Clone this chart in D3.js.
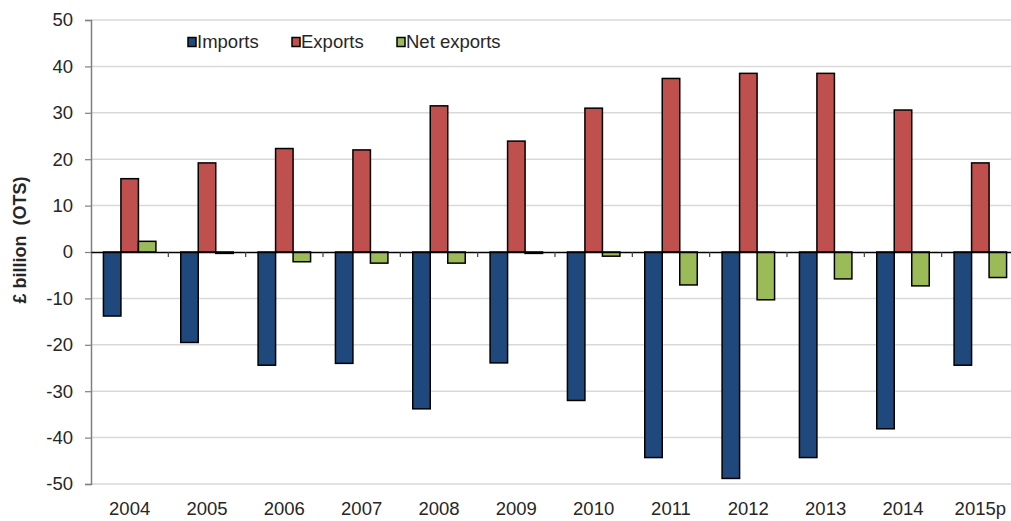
<!DOCTYPE html>
<html><head><meta charset="utf-8">
<script src="https://cdn.jsdelivr.net/npm/d3@7"></script>
<style>
html,body{margin:0;padding:0;background:#fff;overflow:hidden}
text{font-family:"Liberation Sans",Arial,sans-serif;fill:#262626}
</style></head>
<body><svg id="c" width="1011" height="521"></svg>
<script>
const years = ["2004","2005","2006","2007","2008","2009","2010","2011","2012","2013","2014","2015p"];
const imports = [-13.8,-19.5,-24.4,-24.0,-33.8,-23.9,-32.0,-44.3,-48.8,-44.3,-38.1,-24.4];
const exportsV = [15.8,19.2,22.3,22.0,31.5,23.9,31.0,37.4,38.5,38.5,30.6,19.2];
const netExports = [2.3,-0.3,-2.1,-2.4,-2.4,-0.3,-0.9,-7.1,-10.3,-5.8,-7.3,-5.5];
const seriesNames = ["Imports","Exports","Net exports"];
const seriesColors = ["#1F497D","#C0504D","#9BBB59"];
const yTicks = [-50,-40,-30,-20,-10,0,10,20,30,40,50];

const seriesData = [imports, exportsV, netExports];
const svg = d3.select("#c");
const plotL = 91, plotR = 1019, plotT = 20, plotB = 484;

const y = d3.scaleLinear().domain([-50,50]).range([plotB, plotT]);
const x0 = d3.scaleBand().domain(years).range([plotL, plotR]).paddingInner(0).paddingOuter(0);
const x1 = d3.scaleBand().domain(seriesNames).range([0, x0.bandwidth()]).paddingInner(0).paddingOuter(0.71);

// gridlines
svg.append("g").selectAll("line").data(yTicks.filter(t => t !== 0)).join("line")
  .attr("x1", plotL).attr("x2", 1011)
  .attr("y1", d => y(d)).attr("y2", d => y(d))
  .attr("stroke", "#d9d9d9").attr("stroke-width", 1.5);

// y axis
const yAxis = d3.axisLeft(y).tickValues(yTicks).tickSize(6).tickPadding(12).tickFormat(d3.format("d"));
const gy = svg.append("g").attr("transform", `translate(${plotL},0)`).call(yAxis);
gy.select(".domain").attr("stroke", "#7f7f7f").attr("stroke-width", 1.5);
gy.selectAll(".tick line").attr("stroke", "#7f7f7f").attr("stroke-width", 1.2);
gy.selectAll(".tick text").style("font-size", "18.5px").style("fill", "#262626")
  .style("font-family", "'Liberation Sans',Arial,sans-serif")
  .text(d => d < 0 ? "-" + Math.abs(d) : d);

// bars
const groups = svg.append("g").selectAll("g").data(years).join("g")
  .attr("transform", d => `translate(${x0(d)},0)`);
groups.selectAll("rect").data((d, i) => seriesNames.map((s, k) => ({s, k, v: seriesData[k][i]}))).join("rect")
  .attr("x", d => x1(d.s))
  .attr("width", x1.bandwidth())
  .attr("y", d => y(Math.max(0, d.v)))
  .attr("height", d => Math.abs(y(d.v) - y(0)))
  .attr("fill", d => seriesColors[d.k])
  .attr("stroke", "#000").attr("stroke-width", 1.5);

// x axis at zero
const xAxis = d3.axisBottom(x0).tickSize(0).tickFormat(() => "");
const gx = svg.append("g").attr("transform", `translate(0,${y(0)})`).call(xAxis);
gx.select(".domain").attr("stroke", "#000").attr("stroke-width", 1.5);
// category boundary ticks
svg.append("g").selectAll("line").data(years.slice(1)).join("line")
  .attr("x1", d => x0(d)).attr("x2", d => x0(d))
  .attr("y1", y(0)).attr("y2", y(0) + 5)
  .attr("stroke", "#404040").attr("stroke-width", 1.2);

// category labels at bottom
svg.append("g").selectAll("text").data(years).join("text")
  .attr("x", d => x0(d) + x0.bandwidth() / 2)
  .attr("y", 515)
  .attr("text-anchor", "middle")
  .style("font-size", "18.5px")
  .text(d => d);

// y label
svg.append("text")
  .attr("transform", `translate(26,240) rotate(-90)`)
  .attr("text-anchor", "middle")
  .style("font-size", "18px").style("font-weight", "bold").style("white-space", "pre")
  .text("£ billion  (OTS)");

// legend
const legX = [188, 292, 397];
const leg = svg.append("g").selectAll("g").data(seriesNames).join("g")
  .attr("transform", (d, i) => `translate(${legX[i]},42)`);
leg.append("rect").attr("x", 0).attr("y", -4.5).attr("width", 8).attr("height", 9)
  .attr("fill", (d, i) => seriesColors[i]).attr("stroke", "#000").attr("stroke-width", 1.5);
leg.append("text").attr("x", 9).attr("y", 0).attr("dy", "0.35em")
  .style("font-size", "18.5px").text(d => d);
</script></body></html>
